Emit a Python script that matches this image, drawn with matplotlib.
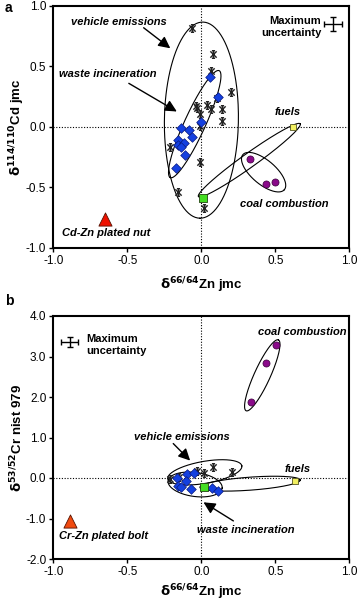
import numpy as np
import matplotlib
matplotlib.use("Agg")
import matplotlib.pyplot as plt
from matplotlib.path import Path

plt.rcParams['font.family'] = ['Liberation Sans', 'DejaVu Sans']

# ---------------- Panel a data (x: d66/64Zn, y: d114/110Cd) ----------------
a_vehicle_x = [-0.065, 0.063, 0.077, 0.20, 0.108, -0.038, -0.03, 0.036, 0.063, 0.138,
               -0.01, 0.138, -0.01, -0.21, -0.01, -0.155, 0.018]
a_vehicle_y = [0.82, 0.466, 0.60, 0.29, 0.24, 0.17, 0.155, 0.18, 0.15, 0.146,
               0.11, 0.05, 0.01, -0.165, -0.29, -0.54, -0.67]
a_waste_x = [0.061, 0.11, 0.0, -0.14, -0.085, -0.063, -0.16, -0.155, -0.115, -0.14, -0.11, -0.17]
a_waste_y = [0.41, 0.25, 0.04, -0.01, -0.03, -0.08, -0.105, -0.15, -0.13, -0.17, -0.23, -0.34]
a_coal_x = [0.33, 0.435, 0.50]
a_coal_y = [-0.27, -0.47, -0.46]
a_fuel_green_x = [0.01]
a_fuel_green_y = [-0.585]
a_fuel_yellow_x = [0.62]
a_fuel_yellow_y = [0.0]
a_plated_x = [-0.65]
a_plated_y = [-0.76]

# ---------------- Panel b data (x: d66/64Zn, y: d53/52Cr) ----------------
b_vehicle_x = [-0.21, -0.15, -0.03, 0.02, 0.08, 0.205]
b_vehicle_y = [-0.02, 0.03, 0.18, 0.12, 0.28, 0.14]
b_waste_x = [-0.166, -0.16, -0.135, -0.10, -0.106, -0.073, -0.05, 0.07, 0.115]
b_waste_y = [0.0, -0.19, -0.22, 0.10, -0.07, -0.28, 0.12, -0.24, -0.31]
b_coal_x = [0.334, 0.435, 0.505]
b_coal_y = [1.88, 2.83, 3.28]
b_fuel_green_x = [0.02]
b_fuel_green_y = [-0.21]
b_fuel_yellow_x = [0.63]
b_fuel_yellow_y = [-0.07]
b_plated_x = [-0.887]
b_plated_y = [-1.05]

x_ticks = [-1.0, -0.5, 0.0, 0.5, 1.0]
a_y_ticks = [-1.0, -0.5, 0.0, 0.5, 1.0]
b_y_ticks = [-2.0, -1.0, 0.0, 1.0, 2.0, 3.0, 4.0]

# ellipse outlines: (major-axis end 1, major-axis end 2, half minor axis in px)
a_ellipses = [((0.01, 0.867), (-0.01, -0.756), 37),
              ((0.12, 0.465), (-0.21, -0.42), 10.5),
              ((-0.02, -0.577), (0.667, 0.025), 7),
              ((0.28, -0.23), (0.56, -0.52), 12)]
b_ellipses = [((0.302, 1.66), (0.52, 3.41), 8),
              ((-0.227, -0.02), (0.273, 0.30), 11),
              ((-0.225, -0.07), (0.14, -0.25), 12),
              ((-0.01, -0.23), (0.667, -0.05), 6.5)]

# Excel-like star marker: X with vertical bar
star = Path([(-1, -1), (1, 1), (-1, 1), (1, -1), (0, -1.2), (0, 1.2),
             (-0.5, 1.2), (0.5, 1.2), (-0.5, -1.2), (0.5, -1.2)],
            [Path.MOVETO, Path.LINETO] * 5)

fig = plt.figure(figsize=(3.6, 6.03), dpi=100)
W, H = 360, 603
axa = fig.add_axes([53.3 / W, 1 - 247.7 / H, (349.5 - 53.3) / W, (247.7 - 6) / H])
axb = fig.add_axes([53.3 / W, 1 - 559 / H, (349.5 - 53.3) / W, (559 - 316) / H])


def style(ax, yt, ylim, ylabel, fmt, xlab_y):
    ax.set_xlim(-1, 1)
    ax.set_ylim(*ylim)
    ax.set_xticks(x_ticks)
    ax.set_xticklabels([f"{v:.1f}" for v in x_ticks])
    ax.set_yticks(yt)
    ax.set_yticklabels([fmt.format(v) for v in yt])
    ax.tick_params(direction='out', length=3, width=1, labelsize=8.5, pad=2)
    for s in ax.spines.values():
        s.set_linewidth(1.5)
    ax.axvline(0, color='black', lw=0.8, ls=(0, (1, 1.5)), zorder=1)
    ax.axhline(0, color='black', lw=0.8, ls=(0, (1, 1.5)), zorder=1)
    ax.set_xlabel(r'$\mathbf{\delta^{66/64}}$' + 'Zn jmc', fontsize=9.5, fontweight='bold', va='center')
    ax.set_ylabel(ylabel, fontsize=9.5, fontweight='bold', va='center')
    ax.xaxis.set_label_coords(0.5, xlab_y)
    ax.yaxis.set_label_coords(-0.123, 0.5)


def draw_ellipse(ax, p1, p2, b_px):
    fig.canvas.draw()
    t = ax.transData
    d1 = t.transform(p1)
    d2 = t.transform(p2)
    c = (d1 + d2) / 2
    u = (d2 - d1) / 2
    a_len = np.hypot(*u)
    n = np.array([-u[1], u[0]]) / a_len * b_px * (fig.dpi / 100)
    th = np.linspace(0, 2 * np.pi, 200)
    pts = c + np.outer(np.cos(th), u) + np.outer(np.sin(th), n)
    dpts = t.inverted().transform(pts)
    ax.plot(dpts[:, 0], dpts[:, 1], color='black', lw=0.8, zorder=2)


def points(ax, vx, vy, wx, wy, cx, cy, gx, gy, yx, yy, px, py, tri_color):
    ax.scatter(vx, vy, marker=star, s=30, color='#222222', linewidths=1.0, zorder=3)
    ax.scatter(wx, wy, marker='D', s=24, color='#1440e0', edgecolors='#0a1a80', linewidths=0.5, zorder=4)
    ax.scatter(cx, cy, marker='o', s=26, color='#8a0a8a', edgecolors='#3a003a', linewidths=0.5, zorder=4)
    ax.scatter(gx, gy, marker='s', s=26, color='#44dd22', edgecolors='#224411', linewidths=0.6, zorder=4)
    ax.scatter(yx, yy, marker='s', s=22, color='#f2f060', edgecolors='#555522', linewidths=0.6, zorder=4)
    ax.scatter(px, py, marker='^', s=90, color=tri_color, edgecolors='#551100', linewidths=0.6, zorder=4)


tk = dict(fontsize=8, fontweight='bold', fontstyle='italic', ha='center', va='center')
arr = dict(arrowstyle='-|>,head_length=0.7,head_width=0.35', color='black', lw=1.0, shrinkA=0, shrinkB=0)

# ---- panel a ----
style(axa, a_y_ticks, (-1, 1), r'$\mathbf{\delta^{114/110}}$' + 'Cd jmc', '{:.1f}', -0.154)
points(axa, a_vehicle_x, a_vehicle_y, a_waste_x, a_waste_y, a_coal_x, a_coal_y,
       a_fuel_green_x, a_fuel_green_y, a_fuel_yellow_x, a_fuel_yellow_y,
       a_plated_x, a_plated_y, '#ee1100')
for e in a_ellipses:
    draw_ellipse(axa, *e)
axa.text(-0.555, 0.87, 'vehicle emissions', **tk)
axa.annotate('', xy=(-0.21, 0.65), xytext=(-0.39, 0.82), arrowprops=arr)
axa.text(-0.63, 0.44, 'waste incineration', **tk)
axa.annotate('', xy=(-0.166, 0.127), xytext=(-0.49, 0.36), arrowprops=arr)
axa.text(0.58, 0.12, 'fuels', **tk)
axa.text(0.56, -0.64, 'coal combustion', **tk)
axa.text(-0.64, -0.875, 'Cd-Zn plated nut', **tk)
axa.text(0.81, 0.83, 'Maximum\nuncertainty', fontsize=8, fontweight='bold', ha='right', va='center',
         linespacing=1.25)
axa.errorbar([0.89], [0.85], xerr=[0.062], yerr=[0.06], color='black', lw=1, capsize=2.5, capthick=1)
fig.text(5 / W, 1 - 8 / H, 'a', fontsize=10, fontweight='bold', ha='left', va='center')

# ---- panel b ----
style(axb, b_y_ticks, (-2, 4), r'$\mathbf{\delta^{53/52}}$' + 'Cr nist 979', '{:.1f}', -0.138)
points(axb, b_vehicle_x, b_vehicle_y, b_waste_x, b_waste_y, b_coal_x, b_coal_y,
       b_fuel_green_x, b_fuel_green_y, b_fuel_yellow_x, b_fuel_yellow_y,
       b_plated_x, b_plated_y, '#f04a10')
for e in b_ellipses:
    draw_ellipse(axb, *e)
axb.text(-0.13, 1.02, 'vehicle emissions', **tk)
axb.annotate('', xy=(-0.076, 0.43), xytext=(-0.19, 0.85), arrowprops=arr)
axb.text(0.30, -1.28, 'waste incineration', **tk)
axb.annotate('', xy=(0.014, -0.6), xytext=(0.216, -1.06), arrowprops=arr)
axb.text(0.65, 0.22, 'fuels', **tk)
axb.text(0.68, 3.6, 'coal combustion', **tk)
axb.text(-0.66, -1.44, 'Cr-Zn plated bolt', **tk)
axb.text(-0.78, 3.28, 'Maximum\nuncertainty', fontsize=8, fontweight='bold', ha='left', va='center',
         linespacing=1.25)
axb.errorbar([-0.89], [3.35], xerr=[0.06], yerr=[0.12], color='black', lw=1, capsize=2.5, capthick=1)
fig.text(5 / W, 1 - 301 / H, 'b', fontsize=10, fontweight='bold', ha='left', va='center')

fig.savefig('out.png', dpi=100)
